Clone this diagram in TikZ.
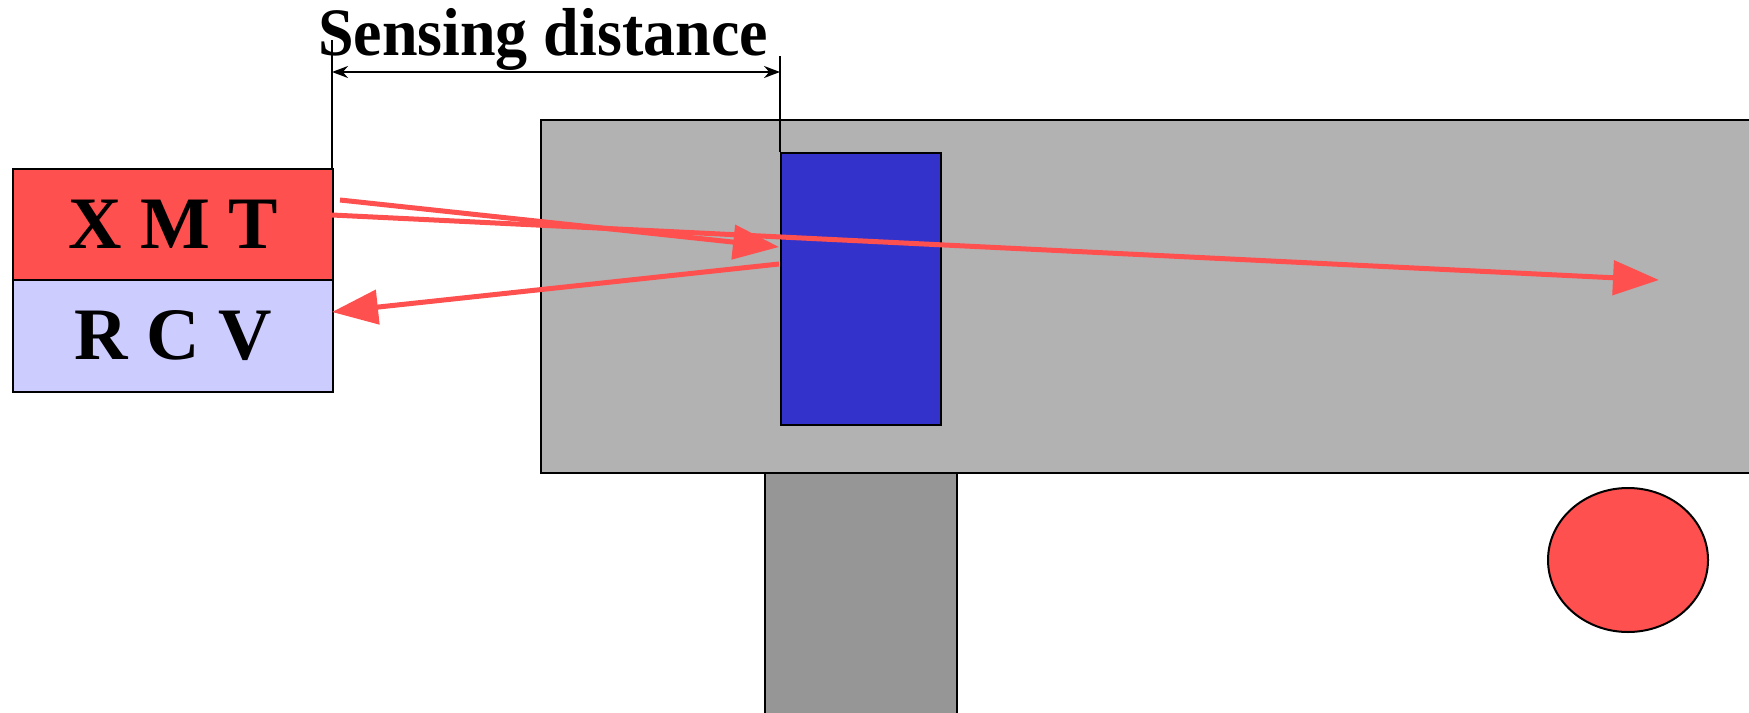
\documentclass[tikz,border=0pt]{standalone}
\usepackage{fontspec}
\setmainfont{Liberation Serif}
\usetikzlibrary{arrows.meta,shapes.geometric}
\definecolor{xred}{RGB}{255,80,80}
\definecolor{rcvblue}{RGB}{204,204,255}
\definecolor{tblue}{RGB}{51,51,204}
\definecolor{beltgray}{RGB}{178,178,178}
\definecolor{postgray}{RGB}{150,150,150}
\tikzset{
  part/.style={draw=black, line width=1pt, inner sep=0pt, anchor=north west},
  label/.style={font=\bfseries\fontsize{37}{40}\selectfont},
  beam/.style={draw=xred, line width=2.5pt, -{Triangle[length=23pt,width=17pt]}},
  extline/.style={draw=black, line width=1pt},
  dimline/.style={draw=black, line width=1pt, {Stealth[length=8pt,width=6pt]}-{Stealth[length=8pt,width=6pt]}}
}
\begin{document}
\begin{tikzpicture}[x=0.5pt,y=-0.5pt]
\useasboundingbox (0,0) rectangle (1749,712);
% conveyor / frame
\node[part, fill=beltgray, minimum width=610pt, minimum height=176.5pt] (belt) at (540,119) {};
\node[part, fill=postgray, minimum width=96pt, minimum height=122pt] (post) at (764,472) {};
\node[part, fill=tblue, minimum width=80pt, minimum height=136pt] (target) at (780,152) {};
\node[draw=black, line width=1pt, fill=xred, ellipse, minimum width=80pt, minimum height=72pt, inner sep=0pt] (ball) at (1628,560) {};
% sensor
\node[part, fill=xred, minimum width=160pt, minimum height=55.5pt, label] (xmt) at (12,168) {X M T};
\node[part, fill=rcvblue, minimum width=160pt, minimum height=56pt, label] (rcv) at (12,279) {R C V};
% dimension
\coordinate (extLtop) at (332,40);
\coordinate (extRtop) at (780,56);
\coordinate (dimL) at (332,72);
\coordinate (dimR) at (780,72);
\draw[extline] (extLtop) -- (extLtop |- xmt.north);
\draw[extline] (extRtop) -- (extRtop |- target.north);
\draw[dimline] (dimL) -- (dimR);
\node[anchor=base, font=\bfseries\fontsize{32}{36}\selectfont, inner sep=0pt, yscale=1.06] (sd) at (543,55) {Sensing distance};
% beams
\coordinate (a0) at (340,200);
\coordinate (a1) at (779,247);
\coordinate (b0) at (332,215);
\coordinate (b1) at (1659,280);
\coordinate (c0) at (779,264);
\coordinate (c1) at (332,312);
\draw[beam] (a0) -- (a1);
\draw[beam] (b0) -- (b1);
\draw[beam] (c0) -- (c1);
\end{tikzpicture}
\end{document}
